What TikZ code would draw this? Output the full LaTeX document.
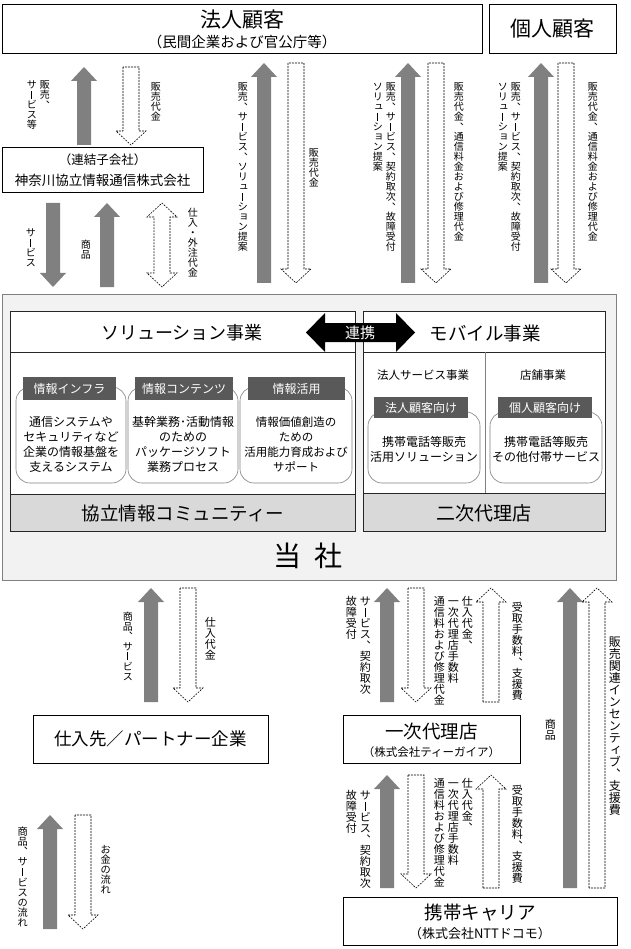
\documentclass[tikz,border=0pt]{standalone}
\usepackage{fontspec}
\usepackage{graphicx}
\setmainfont{Noto Sans CJK JP}
\newcommand\fs[2]{\fontsize{#1}{#2}\selectfont}
\definecolor{agray}{HTML}{808080}
\definecolor{outerfill}{HTML}{F2F2F2}
\definecolor{footfill}{HTML}{D9D9D9}
\definecolor{tagfill}{HTML}{595959}
% ---- manual vertical (tategaki) columns ----
\newcommand\vchar[1]{%
  \setbox0=\hbox to 1em{%
    \ifx#1、\raisebox{0.62em}{\rotatebox[origin=c]{180}{、}}\hss
    \else\ifx#1ー\hss\rule[0.0em]{0.07em}{0.78em}\hss
    \else\ifx#1ュ\hss\kern0.22em\raisebox{0.14em}{ュ}\hss
    \else\ifx#1ョ\hss\kern0.22em\raisebox{0.14em}{ョ}\hss
    \else\ifx#1ィ\hss\kern0.22em\raisebox{0.14em}{ィ}\hss
    \else\hss#1\hss
    \fi\fi\fi\fi\fi}%
  \ht0=0.88em \dp0=0.12em \box0}
\makeatletter
\def\vcol@end{\vcol@end}
\def\vcol@loop#1{\ifx\vcol@end#1\else\vchar{#1}\expandafter\vcol@loop\fi}
\newcommand\vcol[1]{\vtop{\offinterlineskip\vcol@loop#1\vcol@end}}
\makeatother
\newcommand\colgap{\kern3pt}
\newcommand\vone[1]{\hbox{\vcol{#1}}}
\newcommand\vtwo[2]{\hbox{\vcol{#2}\colgap\vcol{#1}}}
\newcommand\vthree[3]{\hbox{\vcol{#3}\colgap\vcol{#2}\colgap\vcol{#1}}}
\tikzset{
  bx/.style={draw=black, line width=0.8pt, fill=white},
  outerbox/.style={draw=agray, line width=0.9pt, fill=outerfill},
  innerbox/.style={draw=black!85, line width=0.8pt, fill=white},
  footbox/.style={draw=black!85, line width=0.8pt, fill=footfill},
  rbox/.style={draw=agray, line width=0.6pt, fill=white, rounded corners=14pt},
  tagbox/.style={fill=tagfill, draw=none},
  txt/.style={inner sep=0pt, text=black},
  tagtxt/.style={inner sep=0pt, text=white, font=\fs{12}{14}},
  body/.style={inner sep=0pt, align=center, font=\fs{12}{15}},
  darr/.style={draw=black, fill=white, line width=0.6pt, dash pattern=on 1.8pt off 1.2pt},
  vlab/.style={anchor=north east, inner sep=0pt, font=\fs{10}{10}},
  vlabL/.style={anchor=north east, inner sep=0pt, font=\fs{11}{11}}
}
\newcommand\solidup[3]{\fill[agray] ({#1-7},#3) -- ({#1-7},{#2+14}) -- ({#1-13},{#2+14}) -- (#1,#2) -- ({#1+13},{#2+14}) -- ({#1+7},{#2+14}) -- ({#1+7},#3) -- cycle;}
\newcommand\soliddown[3]{\fill[agray] ({#1-7},#2) -- ({#1-7},{#3-14}) -- ({#1-13},{#3-14}) -- (#1,#3) -- ({#1+13},{#3-14}) -- ({#1+7},{#3-14}) -- ({#1+7},#2) -- cycle;}
\newcommand\dashdown[3]{\draw[darr] ({#1-8},#2) -- ({#1-8},{#3-14}) -- ({#1-15},{#3-14}) -- (#1,#3) -- ({#1+15},{#3-14}) -- ({#1+8},{#3-14}) -- ({#1+8},#2) -- cycle;}
\newcommand\dashup[3]{\draw[darr] ({#1-8},#3) -- ({#1-8},{#2+14}) -- ({#1-15},{#2+14}) -- (#1,#2) -- ({#1+15},{#2+14}) -- ({#1+8},{#2+14}) -- ({#1+8},#3) -- cycle;}
\newcommand\dashboth[3]{\draw[darr] ({#1-8},{#2+14}) -- ({#1-15},{#2+14}) -- (#1,#2) -- ({#1+15},{#2+14}) -- ({#1+8},{#2+14}) -- ({#1+8},{#3-14}) -- ({#1+15},{#3-14}) -- (#1,#3) -- ({#1-15},{#3-14}) -- ({#1-8},{#3-14}) -- cycle;}
\begin{document}
\begin{tikzpicture}[x=1pt,y=-1pt]
\useasboundingbox (0,0) rectangle (630,949);
\fill[white] (0,0) rectangle (630,949);

% ---------- top customers ----------
\draw[bx] (2,4) rectangle (482,53);
\node[txt, font=\fs{21}{25}] (hojin) at (242,20) {法人顧客};
\node[txt, font=\fs{14.5}{17}] (hojinsub) at (242,41.5) {（民間企業および官公庁等）};
\draw[bx] (489,4) rectangle (616,53);
\node[txt, font=\fs{21}{25}] (kojin) at (552.5,28.5) {個人顧客};

% ---------- subsidiary ----------
\draw[bx] (2,147) rectangle (203,192);
\node[txt, font=\fs{12.5}{15}] (renk1) at (102.5,160) {（連結子会社）};
\node[txt, font=\fs{13.5}{16}] (renk2) at (102.5,180) {神奈川協立情報通信株式会社};

% ---------- company ----------
\draw[outerbox] (2,294) rectangle (616,580);
\draw[innerbox] (10,311) rectangle (355,531);
\draw[footbox] (10,494) rectangle (355,531);
\draw[innerbox] (10,352) -- (355,352);
\draw[innerbox] (363,311) rectangle (605,531);
\draw[footbox] (363,493) rectangle (605,531);
\draw[innerbox] (363,352) -- (605,352);
\draw[draw=agray, line width=0.6pt] (485,352) -- (485,493);

\node[txt, font=\fs{18}{22}] (solhead) at (182,333) {ソリューション事業};
\node[txt, font=\fs{18.5}{22}] (mobhead) at (485,333) {モバイル事業};
\node[txt, font=\fs{18.5}{22}] (kyoritsu) at (183,513) {協立情報コミュニティー};
\node[txt, font=\fs{19}{22}] (niji) at (484,513) {二次代理店};
\node[txt, font=\fs{28}{32}] (tosha) at (308,556) {当\hspace{0.45em}社};

\fill[black] (306,332.5) -- (325,313) -- (325,323) -- (396,323) -- (396,313) -- (415,332.5) -- (396,352) -- (396,342) -- (325,342) -- (325,352) -- cycle;
\node[txt, text=white, font=\fs{15}{18}] (renkei) at (360,332.5) {連携};

\draw[rbox] (16,387) rectangle (126,483);
\draw[rbox] (128,387) rectangle (238,483);
\draw[rbox] (240,387) rectangle (352,483);
\fill[tagbox] (23,377) rectangle (116,400);
\fill[tagbox] (135,377) rectangle (233,400);
\fill[tagbox] (248,377) rectangle (345,400);
\node[tagtxt] (tag1) at (69.5,388.5) {情報インフラ};
\node[tagtxt] (tag2) at (184,388.5) {情報コンテンツ};
\node[tagtxt] (tag3) at (296.5,388.5) {情報活用};
\node[body] (body1) at (71,444) {通信システムや\\セキュリティなど\\企業の情報基盤を\\支えるシステム};
\node[body] (body2) at (183,444) {基幹業務･活動情報\\のための\\パッケージソフト\\業務プロセス};
\node[body, font=\fs{11.5}{15}] (body3) at (296,444) {情報価値創造の\\ための\\活用能力育成および\\サポート};

\node[txt, font=\fs{11.5}{14}] (hojinsvc) at (423,375) {法人サービス事業};
\node[txt, font=\fs{11.5}{14}] (tenpo) at (543,375) {店舗事業};
\draw[rbox] (368,412) rectangle (480,483);
\draw[rbox] (490,412) rectangle (602,483);
\fill[tagbox] (374,397) rectangle (468,418);
\fill[tagbox] (498,397) rectangle (592,418);
\node[tagtxt] (tag4) at (421,407.5) {法人顧客向け};
\node[tagtxt] (tag5) at (545,407.5) {個人顧客向け};
\node[body] (body4) at (424,449.5) {携帯電話等販売\\活用ソリューション};
\node[body] (body5) at (546,449.5) {携帯電話等販売\\その他付帯サービス};

% ---------- lower boxes ----------
\draw[bx] (33,715) rectangle (268,763);
\node[txt, font=\fs{17.5}{21}] (shiire) at (150.5,739) {仕入先／パートナー企業};
\draw[bx] (343,715) rectangle (520,763);
\node[txt, font=\fs{18.5}{22}] (ichiji) at (431.5,731) {一次代理店};
\node[txt, font=\fs{11.5}{14}] (ichijisub) at (431.5,752) {（株式会社ティーガイア）};
\draw[bx] (343,897) rectangle (617,945);
\node[txt, font=\fs{18.5}{22}] (carrier) at (480,913) {携帯キャリア};
\node[txt, font=\fs{13}{16}] (carriersub) at (480,934) {（株式会社NTTドコモ）};

% ---------- arrows ----------
\solidup{84}{67}{145}
\dashdown{131}{67}{145}
\soliddown{53}{203}{287}
\solidup{107}{203}{287}
\dashboth{162}{203}{287}
\solidup{264}{63}{283}
\dashdown{296}{63}{283}
\solidup{408}{63}{283}
\dashdown{436}{63}{283}
\solidup{541}{63}{283}
\dashdown{566}{63}{283}
\solidup{151}{588}{702}
\dashdown{188}{588}{702}
\solidup{387}{588}{702}
\dashdown{416}{588}{702}
\dashup{491}{588}{702}
\solidup{570}{588}{888}
\dashup{597}{588}{888}
\solidup{387}{775}{888}
\dashdown{416}{775}{888}
\dashup{491}{775}{888}
\solidup{50}{815}{929}
\dashdown{83}{815}{929}

% ---------- vertical labels ----------
\node[vlab] (l1) at (50,80) {\vtwo{販売、}{サービス等}};
\node[vlab] (l2) at (161,82) {\vone{販売代金}};
\node[vlab] (l3) at (248,82) {\vone{販売、サービス、ソリューション提案}};
\node[vlab] (l4) at (319,148) {\vone{販売代金}};
\node[vlab] (l5) at (396,82) {\vtwo{販売、サービス、契約取次、故障受付}{ソリューション提案}};
\node[vlab] (l6) at (464,82) {\vone{販売代金、通信料金および修理代金}};
\node[vlab] (l7) at (521,82) {\vtwo{販売、サービス、契約取次、故障受付}{ソリューション提案}};
\node[vlab] (l8) at (598,82) {\vone{販売代金、通信料金および修理代金}};
\node[vlab] (l9) at (36,228) {\vone{サービス}};
\node[vlab] (l10) at (91,240) {\vone{商品}};
\node[vlab] (l11) at (198,208) {\vone{仕入・外注代金}};
\node[vlab] (l12) at (133,611) {\vone{商品、サービス}};
\node[vlabL] (l13) at (216,617) {\vone{仕入代金}};
\node[vlabL] (l14) at (371,596) {\vtwo{サービス、契約取次}{故障受付}};
\node[vlabL] (l15) at (473,596) {\vthree{仕入代金、}{一次代理店手数料}{通信料および修理代金}};
\node[vlabL] (l16) at (523,602) {\vone{受取手数料、支援費}};
\node[vlabL] (l17) at (556,719) {\vone{商品}};
\node[vlab, font=\fs{12}{12}] (l18) at (621,636) {\vone{販売関連インセンティブ、支援費}};
\node[vlabL] (l19) at (371,790) {\vtwo{サービス、契約取次}{故障受付}};
\node[vlabL] (l20) at (473,778) {\vthree{仕入代金、}{一次代理店手数料}{通信料および修理代金}};
\node[vlabL] (l21) at (523,785) {\vone{受取手数料、支援費}};
\node[vlab, font=\fs{10.2}{10.2}] (l22) at (28,826) {\vone{商品、サービスの流れ}};
\node[vlab, font=\fs{10.2}{10.2}] (l23) at (111,844) {\vone{お金の流れ}};
\end{tikzpicture}
\end{document}
